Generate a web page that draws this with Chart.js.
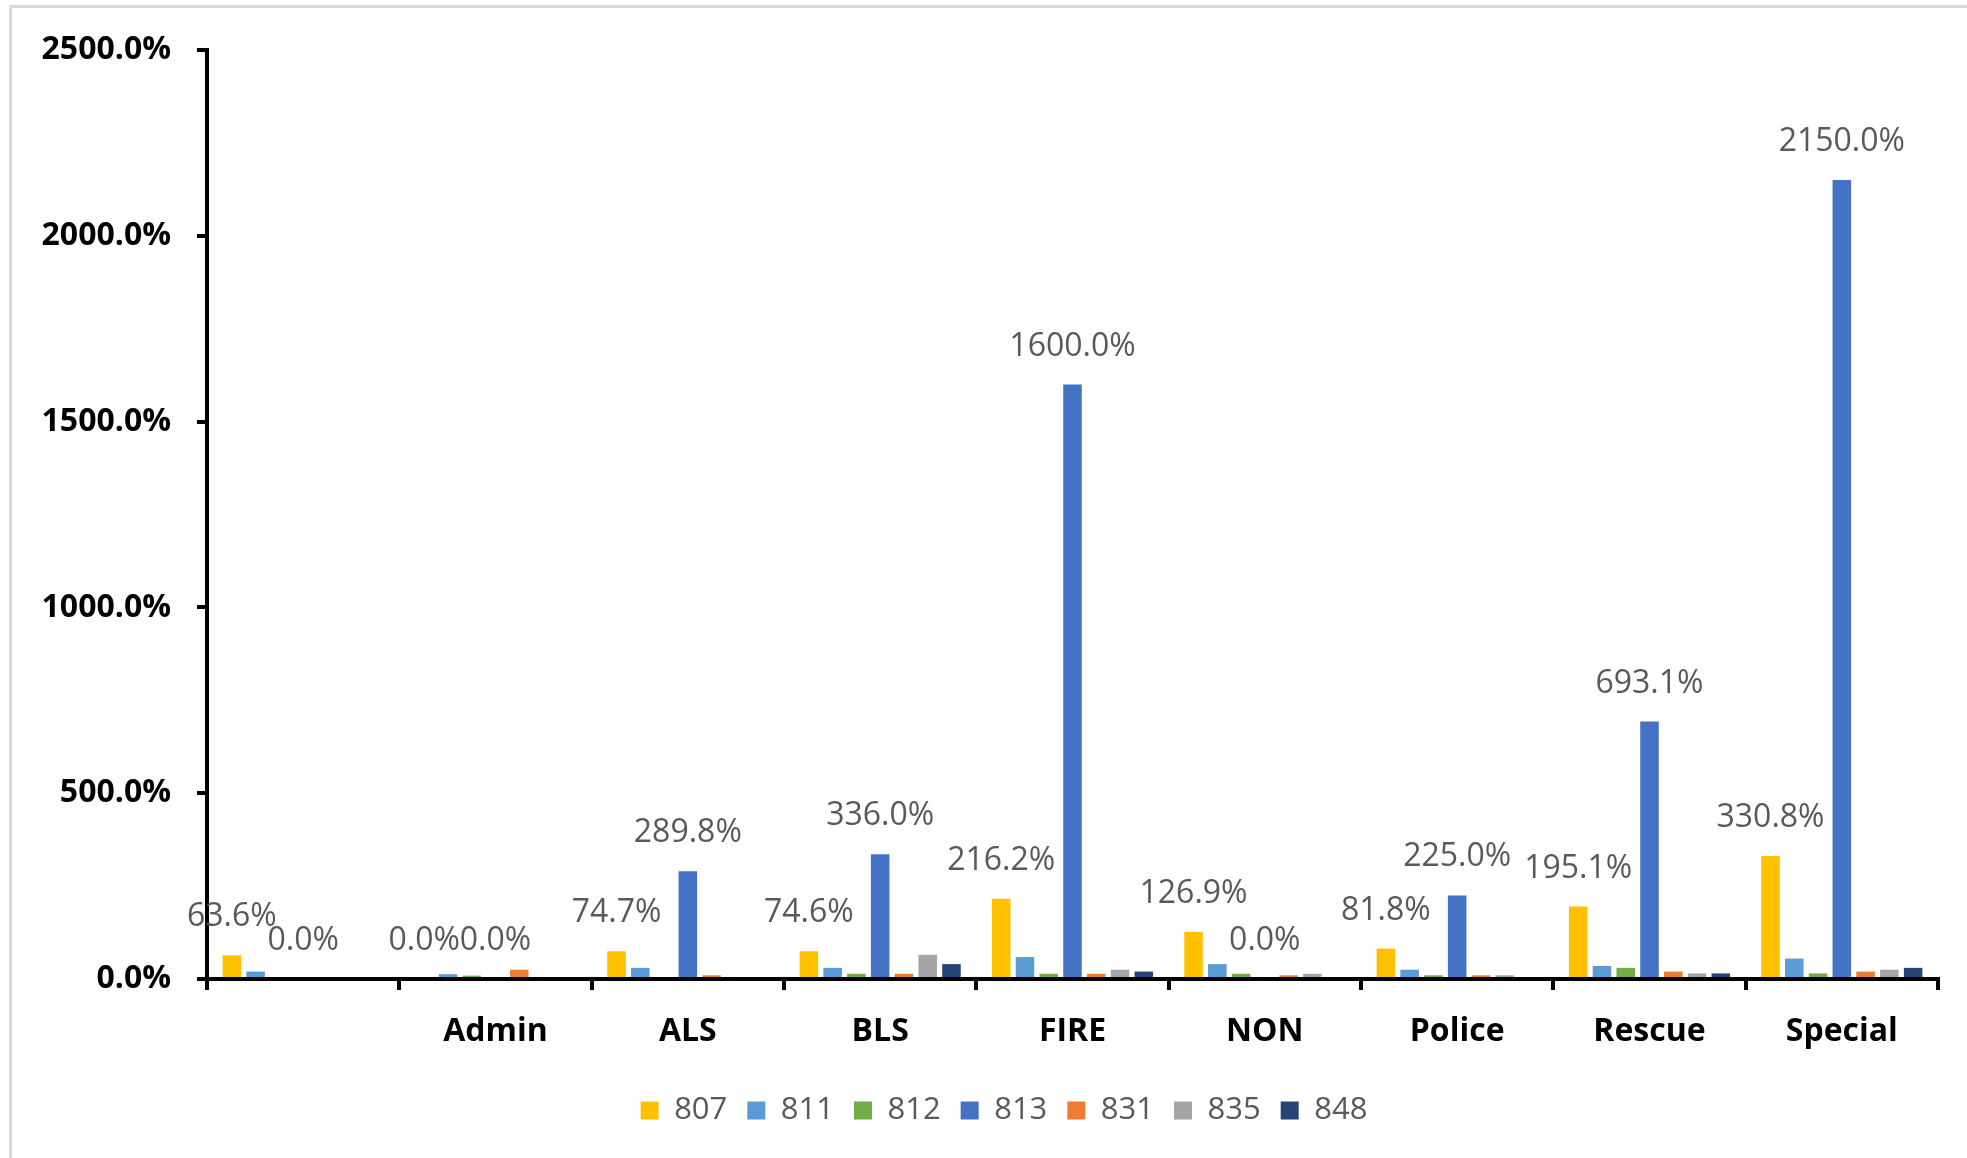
<!DOCTYPE html>
<html>
<head>
<meta charset="utf-8">
<script src="https://cdn.jsdelivr.net/npm/chart.js@4/dist/chart.umd.min.js"></script>
<style>
  html, body { margin: 0; padding: 0; background: #fff; overflow: hidden; }
  #wrap { position: relative; width: 1967px; height: 1158px; }
  #frame { position: absolute; left: 9px; top: 5px; width: 2100px; height: 1300px; border: 3px solid #d9d9d9; box-sizing: border-box; }
  canvas { position: absolute; left: 0; top: 0; }
</style>
</head>
<body>
<div id="wrap">
  <div id="frame"></div>
  <canvas id="c" width="1967" height="1158"></canvas>
</div>
<script>
const categories = ["", "Admin", "ALS", "BLS", "FIRE", "NON", "Police", "Rescue", "Special"];
const seriesNames = ["807", "811", "812", "813", "831", "835", "848"];
const s807 = [63.6, 0, 74.7, 74.6, 216.2, 126.9, 81.8, 195.1, 330.8];
const s811 = [20, 13, 30, 30, 59, 40, 25, 35, 55];
const s812 = [0, 9, 0, 14, 14, 14, 10, 30, 15];
const s813 = [0, 0, 289.8, 336.0, 1600.0, 0, 225.0, 693.1, 2150.0];
const s831 = [0, 25, 10, 14, 14, 10, 10, 20, 20];
const s835 = [0, 0, 0, 65, 25, 14, 10, 15, 25];
const s848 = [0, 0, 0, 40, 20, 0, 0, 15, 30];
const labeledSeries = ["807", "813"];
const yTicks = [0, 500, 1000, 1500, 2000, 2500];

const colors = ["#FFC000", "#5B9BD5", "#70AD47", "#4472C4", "#ED7D31", "#A5A5A5", "#264478"];
const values = [s807, s811, s812, s813, s831, s835, s848];

const FONT = "'Open Sans', 'Noto Sans', sans-serif";

const labelPlugin = {
  id: 'valueLabels',
  afterLayout(chart) {
    if (chart.legend) { chart.legend.left += 35; chart.legend.right += 35; }
  },
  afterDatasetsDraw(chart) {
    const ctx = chart.ctx;
    ctx.save();
    ctx.font = "32px " + FONT;
    ctx.fillStyle = "#595959";
    ctx.textAlign = "center";
    ctx.textBaseline = "bottom";
    chart.data.datasets.forEach((ds, i) => {
      if (!labeledSeries.includes(ds.label)) return;
      const meta = chart.getDatasetMeta(i);
      meta.data.forEach((el, j) => {
        const v = ds.data[j];
        ctx.fillText(v.toFixed(1) + "%", el.x, el.y - 22);
      });
    });
    ctx.restore();
  }
};

new Chart(document.getElementById('c'), {
  type: 'bar',
  data: {
    labels: categories,
    datasets: seriesNames.map((n, i) => ({
      label: n,
      data: values[i],
      backgroundColor: colors[i],
      borderWidth: 0,
      categoryPercentage: 0.865,
      barPercentage: 0.78
    }))
  },
  options: {
    responsive: false,
    animation: false,
    devicePixelRatio: 1,
    layout: { padding: { top: 50, right: 29, left: 0, bottom: 22 } },
    plugins: {
      tooltip: { enabled: false },
      legend: {
        position: 'bottom',
        labels: {
          font: { family: FONT, size: 31 },
          color: '#595959',
          boxWidth: 18,
          boxHeight: 18,
          padding: 20
        }
      }
    },
    scales: {
      x: {
        offset: true,
        grid: { offset: true, drawOnChartArea: false, drawTicks: true, tickLength: 11, color: '#000', lineWidth: 4 },
        border: { color: '#000', width: 4 },
        ticks: { font: { family: FONT, size: 32, weight: 'bold' }, color: '#000', padding: 23, maxRotation: 0, autoSkip: false },
        afterFit(scale) { scale.height = 96; scale.paddingLeft = 0; scale.paddingRight = 0; }
      },
      y: {
        min: 0,
        max: 2500,
        afterBuildTicks(scale) { scale.ticks = yTicks.map(v => ({ value: v })); },
        grid: { drawOnChartArea: false, drawTicks: true, tickLength: 10, color: '#000', lineWidth: 4 },
        border: { color: '#000', width: 4 },
        ticks: {
          font: { family: FONT, size: 32, weight: 'bold' },
          color: '#000',
          padding: 26,
          callback: v => v.toFixed(1) + '%'
        },
        afterFit(scale) { scale.width = 207; scale.paddingTop = 0; scale.paddingBottom = 0; }
      }
    }
  },
  plugins: [labelPlugin]
});
</script>
</body>
</html>
